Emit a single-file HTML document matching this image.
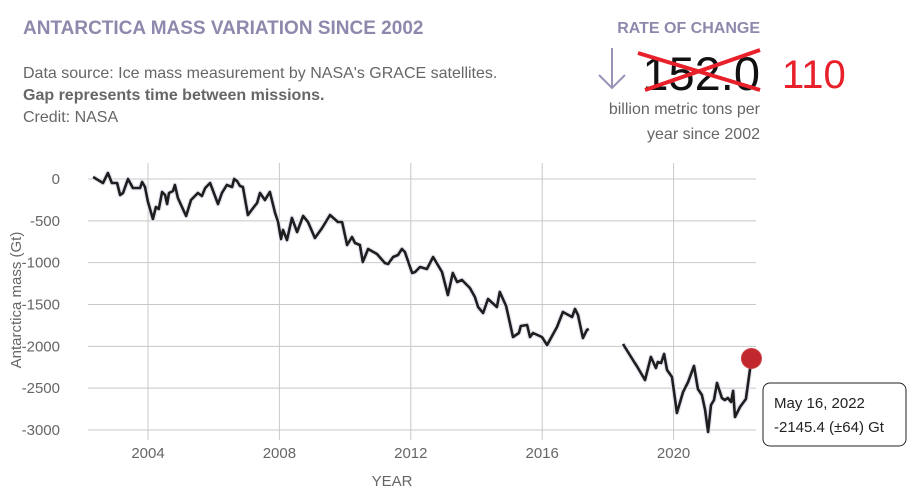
<!DOCTYPE html>
<html><head><meta charset="utf-8">
<style>
body{margin:0;width:914px;height:504px;background:#fff;overflow:hidden;font-family:"Liberation Sans",sans-serif;}
svg{position:absolute;left:0;top:0}
</style></head>
<body>
<svg id="chart" width="914" height="504">
  <text x="23" y="34" font-size="19" font-weight="bold" fill="#8f88ad">ANTARCTICA MASS VARIATION SINCE 2002</text>
  <text x="23" y="78" font-size="16" fill="#666">Data source: Ice mass measurement by NASA's GRACE satellites.</text>
  <text x="23" y="100" font-size="16" font-weight="bold" fill="#666">Gap represents time between missions.</text>
  <text x="23" y="122" font-size="16" fill="#666">Credit: NASA</text>
  <text x="760" y="33" font-size="16" font-weight="bold" fill="#8f88ad" text-anchor="end">RATE OF CHANGE</text>
  <g stroke="#9a93b8" stroke-width="2" fill="none">
    <line x1="612" y1="48" x2="612" y2="88"/><polyline points="599,75 612,88 625,75"/>
  </g>
  <text x="760" y="90" font-size="47" fill="#111" text-anchor="end">152.0</text>
  <g stroke="#e8202a" stroke-width="4">
    <line x1="638" y1="53" x2="760" y2="90"/><line x1="645" y1="90" x2="760" y2="50"/>
  </g>
  <text x="782" y="88" font-size="40" fill="#e8202a">110</text>
  <text x="760" y="114" font-size="16" fill="#666" text-anchor="end">billion metric tons per</text>
  <text x="760" y="139" font-size="16" fill="#666" text-anchor="end">year since 2002</text>
  <g id="grid"></g>
  <g id="series"></g>
  <text transform="translate(21,300) rotate(-90)" font-size="15" fill="#666" text-anchor="middle">Antarctica mass (Gt)</text>
  <text x="392" y="486" font-size="15" fill="#666" text-anchor="middle">YEAR</text>
  <g>
    <rect x="763" y="383" width="143" height="63" rx="7" fill="#fff" stroke="#222" stroke-width="1"/>
    <text x="774" y="408" font-size="15" fill="#222">May 16, 2022</text>
    <text x="774" y="432" font-size="15" fill="#222">-2145.4 (±64) Gt</text>
  </g>
</svg>
<script>
const yTicks=[0,-500,-1000,-1500,-2000,-2500,-3000];
const xTicks=[2004,2008,2012,2016,2020];
const years1=[2002.33,2002.63,2002.78,2002.90,2003.06,2003.15,2003.24,2003.39,2003.54,2003.76,2003.82,2003.91,2004.00,2004.15,2004.24,2004.33,2004.43,2004.52,2004.58,2004.64,2004.76,2004.82,2004.91,2005.16,2005.31,2005.52,2005.64,2005.74,2005.89,2006.13,2006.25,2006.40,2006.56,2006.62,2006.71,2006.80,2006.89,2007.04,2007.20,2007.32,2007.41,2007.56,2007.71,2007.87,2007.96,2008.05,2008.11,2008.23,2008.38,2008.54,2008.72,2008.87,2009.08,2009.30,2009.54,2009.78,2009.91,2010.06,2010.21,2010.30,2010.45,2010.54,2010.70,2010.97,2011.21,2011.31,2011.46,2011.61,2011.73,2011.82,2012.04,2012.13,2012.28,2012.49,2012.68,2012.95,2013.13,2013.28,2013.41,2013.56,2013.80,2013.95,2014.05,2014.20,2014.35,2014.62,2014.71,2014.90,2015.11,2015.29,2015.35,2015.54,2015.63,2015.72,2015.99,2016.15,2016.45,2016.63,2016.91,2017.00,2017.09,2017.24,2017.36,2017.42];
const mass1=[24,-48,72,-48,-48,-191,-167,0,-108,-108,-36,-96,-275,-478,-335,-359,-155,-191,-299,-167,-143,-72,-227,-442,-251,-167,-203,-108,-48,-299,-167,-72,-96,0,-24,-84,-96,-430,-347,-287,-167,-251,-155,-406,-514,-717,-609,-729,-466,-633,-442,-514,-705,-586,-430,-514,-514,-789,-693,-765,-789,-992,-837,-896,-1004,-1016,-932,-908,-837,-872,-1123,-1111,-1052,-1076,-932,-1111,-1386,-1123,-1231,-1207,-1303,-1410,-1530,-1601,-1434,-1530,-1350,-1518,-1888,-1840,-1757,-1745,-1888,-1840,-1888,-1984,-1769,-1589,-1649,-1554,-1625,-1900,-1804,-1793];
const years2=[2018.46,2018.82,2018.88,2019.13,2019.31,2019.46,2019.52,2019.62,2019.71,2019.80,2019.95,2020.10,2020.29,2020.44,2020.62,2020.74,2020.86,2020.96,2021.05,2021.14,2021.23,2021.32,2021.47,2021.56,2021.65,2021.75,2021.81,2021.87,2022.02,2022.20,2022.37];
const mass2=[-1972,-2199,-2235,-2402,-2127,-2259,-2187,-2199,-2091,-2282,-2366,-2796,-2545,-2426,-2235,-2510,-2581,-2760,-3023,-2701,-2641,-2438,-2617,-2641,-2617,-2665,-2533,-2844,-2725,-2629,-2145];
const NS="http://www.w3.org/2000/svg";
const X=yr=>148+(yr-2004)*32.85;
const Y=v=>179-v*0.08367;
const grid=document.getElementById('grid'), ser=document.getElementById('series');
function mk(tag,attrs,parent){const e=document.createElementNS(NS,tag);for(const k in attrs)e.setAttribute(k,attrs[k]);parent.appendChild(e);return e;}
yTicks.forEach(t=>{
  const l=mk('line',{x1:88,x2:756,y1:Y(t),y2:Y(t),stroke:'#c8c8c8','stroke-width':1},grid);
  
  
  const tx=mk('text',{x:60,y:Y(t)+5,'font-size':15,fill:'#666','text-anchor':'end'},grid);
  tx.textContent=t;
  
  
});
xTicks.forEach(t=>{
  const l=mk('line',{x1:X(t),x2:X(t),y1:163,y2:440,stroke:'#c8c8c8','stroke-width':1},grid);
  
  
  const tx=mk('text',{x:X(t),y:458,'font-size':15,fill:'#666','text-anchor':'middle'},grid);
  tx.textContent=t;
  
  
});
function draw(ys,vs,name){
  const d=ys.map((y,i)=>(i?'L':'M')+X(y).toFixed(1)+','+Y(vs[i]).toFixed(1)).join('');
  const band=mk('path',{d:d,fill:'none',stroke:'#e6e3f0','stroke-width':5,'stroke-linejoin':'round'},ser);
  
  
  const p=mk('path',{d:d,fill:'none',stroke:'#1e1e1e','stroke-width':2.6,'stroke-linejoin':'round'},ser);
  
  
}
draw(years1,mass1,'grace-series-line');
draw(years2,mass2,'grace-fo-series-line');
const last=years2.length-1;
const dot=mk('circle',{cx:X(years2[last]),cy:Y(mass2[last]),r:10,fill:'#c0282d',stroke:'#d04045','stroke-width':1},ser);


</script>
</body></html>
